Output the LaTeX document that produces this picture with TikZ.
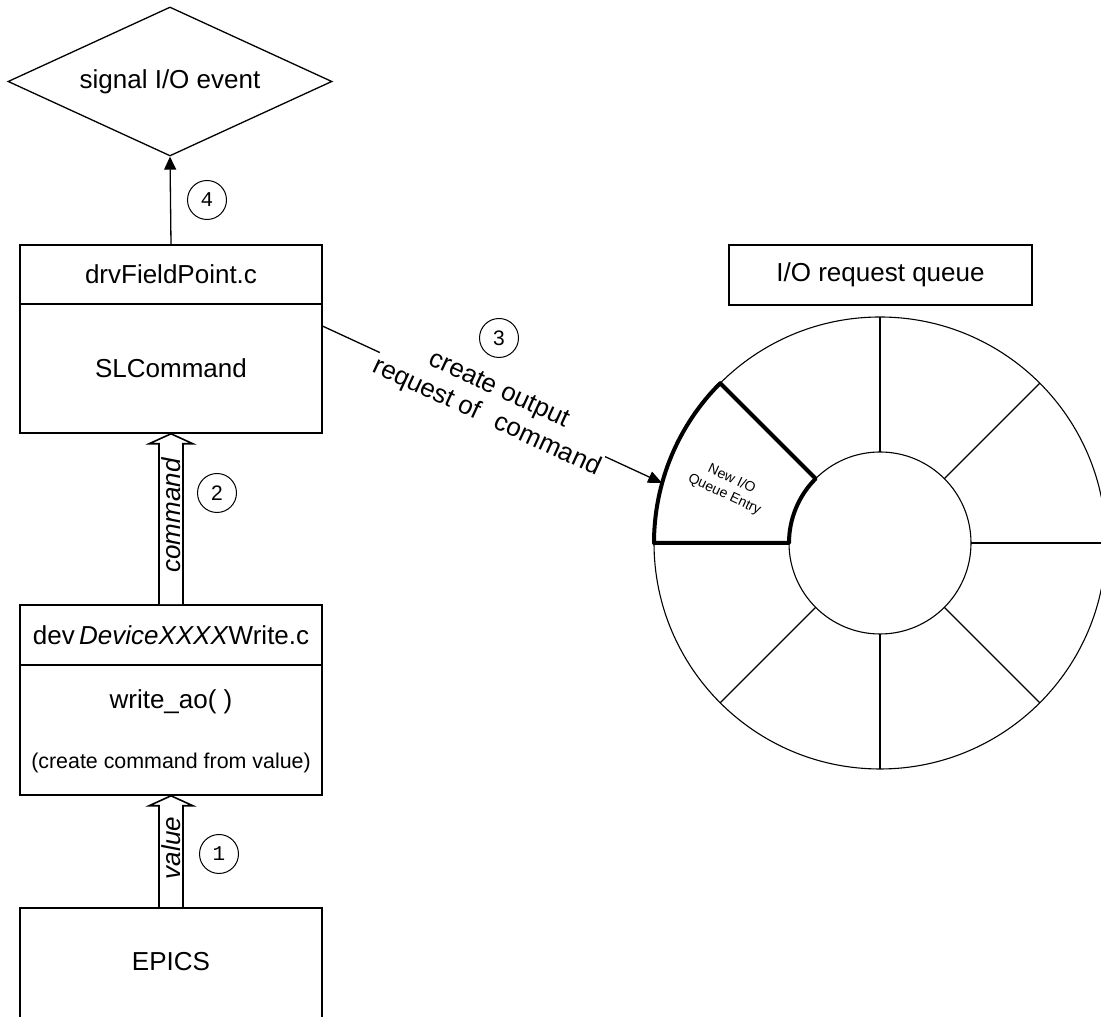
\documentclass[tikz,border=0pt]{standalone}
\usepackage{fontspec}
\setmainfont{Liberation Sans}
\newfontfamily\monofont{Liberation Mono}
\usetikzlibrary{shapes.geometric,calc,arrows.meta}
\begin{document}
\begin{tikzpicture}[x=1pt,y=1pt,
  big/.style={font=\fontsize{26}{30}\selectfont},
  box/.style={draw,line width=1.6pt,minimum width=302pt,inner sep=0pt},
  num/.style={draw,circle,line width=1pt,minimum size=39pt,inner sep=0pt,font=\fontsize{21}{24}\selectfont},
  thin/.style={line width=1.1pt},
  thick/.style={line width=4pt,line join=round},
  hollow/.style={draw,line width=1.6pt,fill=white,line join=miter},
  conn/.style={line width=1.3pt},
]
\useasboundingbox (0,0) rectangle (1101,1017);

% --- left column ---
\node[draw,diamond,aspect=2.17,minimum width=324pt,minimum height=149pt,inner sep=0pt,line width=1.3pt,big] (event) at (170,935.5) {signal I/O event};

\node[box,big,minimum height=59pt] (drvTitle) at (171,742.5) {drvFieldPoint.c};
\node[box,big,minimum height=129pt] (drvBody) at (171,648.5) {SLCommand};

\node[box,big,minimum height=60pt] (devTitle) at (171,382) {dev\,\textit{DeviceXXXX}Write.c};
\node[box,minimum height=130pt] (devBody) at (171,287) {};
\node[big] (writeao) at (171,315) {write\_ao( )};
\node[font=\fontsize{21.4}{25}\selectfont] (createcmd) at (171,254) {(create command from value)};

\node[box,minimum height=140pt,anchor=north] (epics) at (171,110) {};
\node[big] (epicsText) at (171,55) {EPICS};

% arrow 4
\draw[conn,-{Triangle[length=13pt,width=12pt]}] (drvTitle.north) -- (event.south);
\node[num,font=\monofont\fontsize{21}{24}\selectfont] (n4) at (207,817) {4};

% hollow arrow 2 (command)
\draw[hollow] ($(devTitle.north)+(-12,0)$) -- ($(drvBody.south)+(-12,-10)$) -- ($(drvBody.south)+(-22,-10)$) -- (drvBody.south) -- ($(drvBody.south)+(22,-10)$) -- ($(drvBody.south)+(12,-10)$) -- ($(devTitle.north)+(12,0)$);
\path (devTitle.north) -- (drvBody.south) node[pos=0.52,rotate=90,big,font=\itshape\fontsize{26}{30}\selectfont] (cmdlbl) {command};
\node[num] (n2) at (217,524) {2};

% hollow arrow 1 (value)
\draw[hollow] ($(epics.north)+(-12,0)$) -- ($(devBody.south)+(-12,-10)$) -- ($(devBody.south)+(-22,-10)$) -- (devBody.south) -- ($(devBody.south)+(22,-10)$) -- ($(devBody.south)+(12,-10)$) -- ($(epics.north)+(12,0)$);
\path (epics.north) -- (devBody.south) node[pos=0.53,rotate=90,font=\itshape\fontsize{26}{30}\selectfont] (vallbl) {value};
\node[num,font=\monofont\fontsize{21}{24}\selectfont] (n1) at (219,163) {1};

% --- queue ---
\node[box,big,minimum width=303pt,minimum height=60pt] (qlabel) at (880.5,742) {I/O request queue};

\coordinate (c) at (880,474);
\draw[thin] (c) circle[radius=226];
\draw[thin] (c) circle[radius=91];
\foreach \a in {0,45,90,225,270,315} {
  \draw[thin] ($(c)+(\a:91)$) -- ($(c)+(\a:226)$);
}
\draw[thick] ($(c)+(180:226)$) -- ($(c)+(180:91)$) arc[start angle=180,end angle=135,radius=91] -- ($(c)+(135:226)$) arc[start angle=135,end angle=180,radius=226] -- cycle;
\node[font=\fontsize{14}{17}\selectfont,align=center,rotate=-25] (newentry) at (728,530) {New I/O\\Queue Entry};

% connector 3
\coordinate (s3) at ($(drvBody.north east)+(0,-23)$);
\coordinate (entry) at ($(c)+(164.6:226)$);
\draw[conn] (s3) -- ($(s3)!0.168!(entry)$);
\draw[conn,-{Triangle[length=14pt,width=12pt]}] ($(s3)!0.832!(entry)$) -- (entry);
\path (s3) -- (entry) node[midway,sloped,align=center,font=\fontsize{26}{30}\selectfont] (lbl3) {create output\\request of\hspace{0.7em}command};
\node[num] (n3) at (499,679) {3};
\end{tikzpicture}
\end{document}
